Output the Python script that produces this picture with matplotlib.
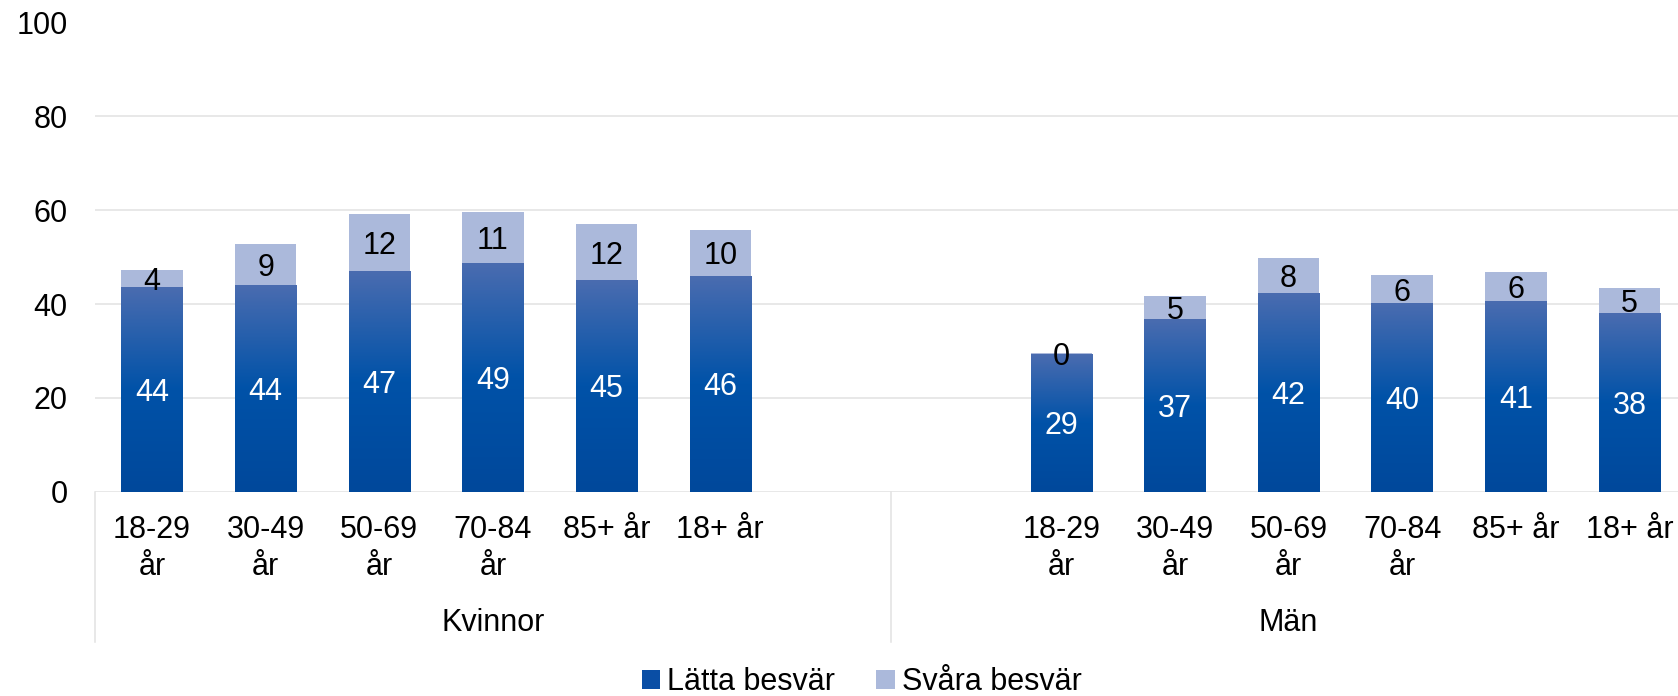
import numpy as np
import matplotlib
matplotlib.use('Agg')
import matplotlib.pyplot as plt
from matplotlib.colors import LinearSegmentedColormap
from matplotlib.lines import Line2D
from matplotlib.patches import Patch

plt.rcParams['font.family'] = ['Liberation Sans', 'DejaVu Sans']

# ---- data ----
groups = ['Kvinnor', 'Män']
age_labels = ['18-29\når', '30-49\når', '50-69\når', '70-84\når', '85+ år', '18+ år']
kvinnor_latta = [43.6, 44.1, 47.1, 48.7, 45.1, 46.0]
kvinnor_svara = [3.6, 8.6, 12.1, 10.9, 11.9, 9.8]
man_latta = [29.4, 36.8, 42.2, 40.2, 40.6, 38.1]
man_svara = [0.2, 5.0, 7.7, 6.0, 6.3, 5.3]
series_names = ['Lätta besvär', 'Svåra besvär']
yticks = [0, 20, 40, 60, 80, 100]

FS = 22
DARK = '#0A4EA5'
LIGHT = '#ABB9DB'
GRID = '#E2E2E2'

fig = plt.figure(figsize=(16.78, 6.96), dpi=100)
W, H = 1678, 696
left_px, right_px = 95.2, 95.2 + 14 * 113.65
bot_px, top_px = 491.7, 22.5
ax = fig.add_axes([left_px / W, 1 - bot_px / H, (right_px - left_px) / W, (bot_px - top_px) / H])

n = len(age_labels)
pos_k = np.arange(n)
pos_m = np.arange(n) + n + 2
positions = np.concatenate([pos_k, pos_m])
latta = np.array(kvinnor_latta + man_latta)
svara = np.array(kvinnor_svara + man_svara)

bw = 0.54
bars_d = ax.bar(positions, latta, width=bw, color=DARK, zorder=2)
bars_l = ax.bar(positions, svara, bottom=latta, width=bw, color=LIGHT, zorder=2)

# gradient overlay on dark bars
cmap = LinearSegmentedColormap.from_list('g', [(0.0, '#00489B'), (0.5, '#0052A8'), (1.0, '#4A6CB0')])
grad = np.linspace(0, 1, 256).reshape(-1, 1)
for b in bars_d:
    x0 = b.get_x(); w = b.get_width(); h = b.get_height()
    ax.imshow(grad, cmap=cmap, origin='lower', aspect='auto',
              extent=[x0, x0 + w, 0, h], zorder=2.5, interpolation='bilinear')

# data labels
for x, d, s in zip(positions, latta, svara):
    ax.text(x, d / 2, f"{d:.0f}", ha='center', va='center_baseline', color='white', fontsize=FS, zorder=4)
    ax.text(x, d + s / 2, f"{s:.0f}", ha='center', va='center_baseline', color='black', fontsize=FS, zorder=4)

ax.set_xlim(-0.5, 2 * n + 1.5)
ax.set_ylim(0, 100)
ax.set_yticks(yticks)
ax.set_yticklabels([str(t) for t in yticks], fontsize=FS)
ax.yaxis.grid(True, color=GRID, lw=1.1, zorder=0)
ax.set_axisbelow(True)
for sp in ax.spines.values():
    sp.set_visible(False)
ax.tick_params(axis='y', length=0, pad=20)
ax.set_xticks(positions)
ax.set_xticklabels(age_labels * 2, fontsize=FS, linespacing=1.28)
ax.tick_params(axis='x', length=0, pad=17)

# separators and group labels
trans = ax.get_xaxis_transform()
for xs in [-0.5, n + 0.5, 2 * n + 1.5]:
    ax.add_line(Line2D([xs, xs], [0, -0.32], transform=trans, color=GRID, lw=1.1, clip_on=False))
ax.text(n / 2, -0.28, groups[0], transform=trans, ha='center', va='center', fontsize=FS)
ax.text(n + 0.5 + (n + 1) / 2, -0.28, groups[1], transform=trans, ha='center', va='center', fontsize=FS)

handles = [Patch(facecolor=DARK, label=series_names[0]), Patch(facecolor=LIGHT, label=series_names[1])]
fig.legend(handles=handles, loc='center', bbox_to_anchor=(861.5 / W, 1 - 682 / H), ncol=2, frameon=False,
           fontsize=FS, handlelength=0.59, handleheight=0.59, handletextpad=0.23, columnspacing=1.37,
           borderpad=0, borderaxespad=0)

fig.savefig('out.png', dpi=100)
